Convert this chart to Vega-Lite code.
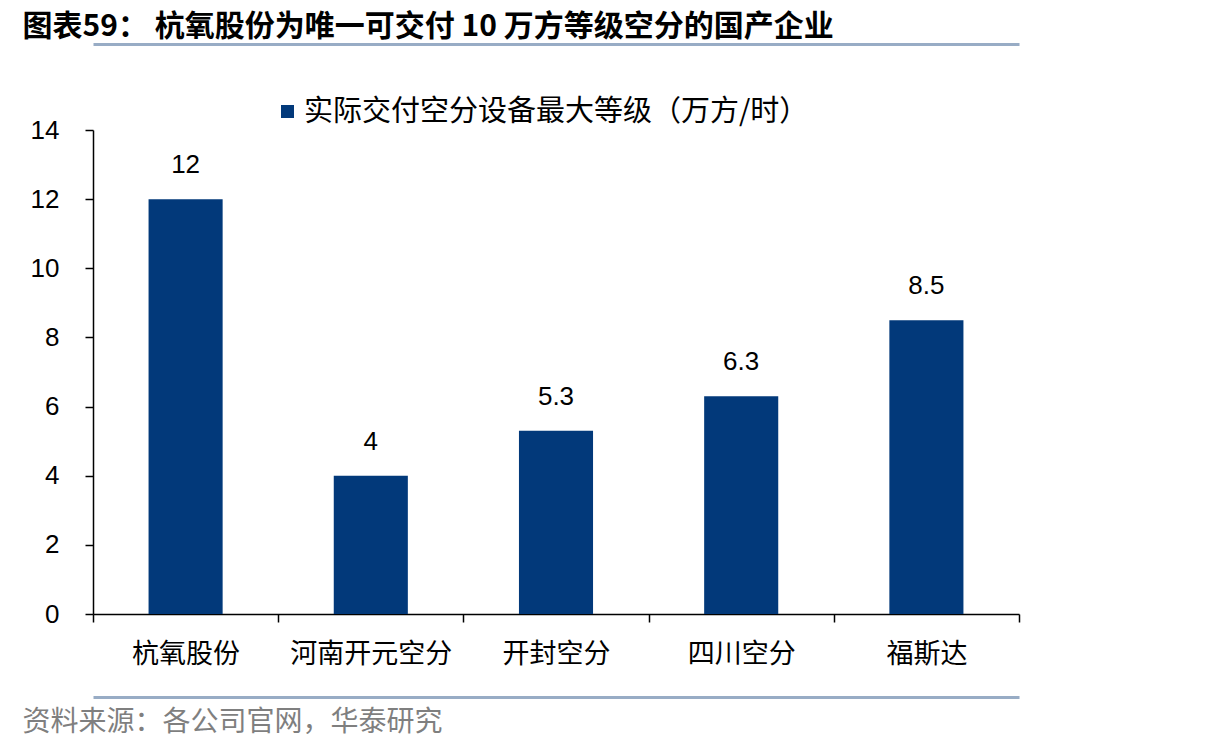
{
  "$schema": "https://vega.github.io/schema/vega-lite/v6.json",
  "width": 926,
  "height": 484,
  "autosize": {"type": "none"},
  "padding": {"left": 93, "top": 130, "right": 187, "bottom": 137},
  "background": "white",
  "config": {"view": {"stroke": null}},
  "data": {"values": [
    {"company": "杭氧股份", "value": 12, "series": "实际交付空分设备最大等级（万方/时）"},
    {"company": "河南开元空分", "value": 4, "series": "实际交付空分设备最大等级（万方/时）"},
    {"company": "开封空分", "value": 5.3, "series": "实际交付空分设备最大等级（万方/时）"},
    {"company": "四川空分", "value": 6.3, "series": "实际交付空分设备最大等级（万方/时）"},
    {"company": "福斯达", "value": 8.5, "series": "实际交付空分设备最大等级（万方/时）"}
  ]},
  "resolve": {"axis": {"x": "independent"}},
  "layer": [
    {
      "mark": {"type": "bar", "width": {"band": 0.4}},
      "encoding": {
        "x": {"field": "company", "type": "nominal", "sort": null,
          "scale": {"paddingInner": 0, "paddingOuter": 0},
          "axis": {"orient": "bottom", "tickBand": "extent", "title": null, "labelAngle": 0,
            "labelFont": "Noto Sans CJK SC", "labelFontSize": 27, "labelColor": "#000000",
            "labelPadding": 19, "labelBaseline": "top", "tickSize": 8, "tickColor": "#000000", "tickWidth": 1.5,
            "domainColor": "#000000", "domainWidth": 1.5, "grid": false}},
        "y": {"field": "value", "type": "quantitative",
          "scale": {"domain": [0, 14], "nice": false},
          "axis": {"values": [0, 2, 4, 6, 8, 10, 12, 14], "title": null, "grid": false,
            "labelFont": "Liberation Sans", "labelFontSize": 26, "labelColor": "#000000",
            "labelPadding": 26, "tickSize": 8, "tickColor": "#000000", "tickWidth": 1.5,
            "domainColor": "#000000", "domainWidth": 1.5}},
        "color": {"field": "series", "type": "nominal",
          "scale": {"range": ["#02397A"]},
          "legend": {"orient": "none", "legendX": 180, "legendY": -33, "title": null,
            "symbolType": "square", "symbolSize": 169, "symbolStrokeWidth": 0,
            "labelFont": "Noto Sans CJK SC", "labelFontSize": 29, "labelColor": "#000000",
            "labelOffset": 2, "labelLimit": 800, "padding": 0}}
      }
    },
    {
      "mark": {"type": "text", "font": "Liberation Sans", "fontSize": 26, "color": "#000000",
        "baseline": "alphabetic", "dy": -26},
      "encoding": {
        "x": {"field": "company", "type": "nominal", "sort": null,
          "axis": {"orient": "top", "offset": 86, "domainColor": "#98ACC5", "domainWidth": 3,
            "ticks": false, "labels": false, "grid": false,
            "title": "图表59： 杭氧股份为唯一可交付 10 万方等级空分的国产企业",
            "titleX": -71, "titleY": -9, "titleAlign": "left", "titleBaseline": "alphabetic",
            "titleAngle": 0, "titleFont": "Noto Sans CJK SC", "titleFontSize": 30,
            "titleFontWeight": "bold", "titleColor": "#000000"}},
        "y": {"field": "value", "type": "quantitative"},
        "text": {"field": "value", "type": "quantitative"}
      }
    },
    {
      "mark": {"type": "point", "opacity": 0},
      "encoding": {
        "x": {"field": "company", "type": "nominal", "sort": null,
          "axis": {"orient": "bottom", "offset": 83, "domainColor": "#98ACC5", "domainWidth": 3,
            "ticks": false, "labels": false, "grid": false,
            "title": "资料来源：各公司官网，华泰研究",
            "titleX": -71, "titleY": 33, "titleAlign": "left", "titleBaseline": "alphabetic",
            "titleAngle": 0, "titleFont": "Noto Sans CJK SC", "titleFontSize": 28,
            "titleFontWeight": "normal", "titleColor": "#7F7F7F"}},
        "y": {"field": "value", "type": "quantitative"}
      }
    }
  ]
}
